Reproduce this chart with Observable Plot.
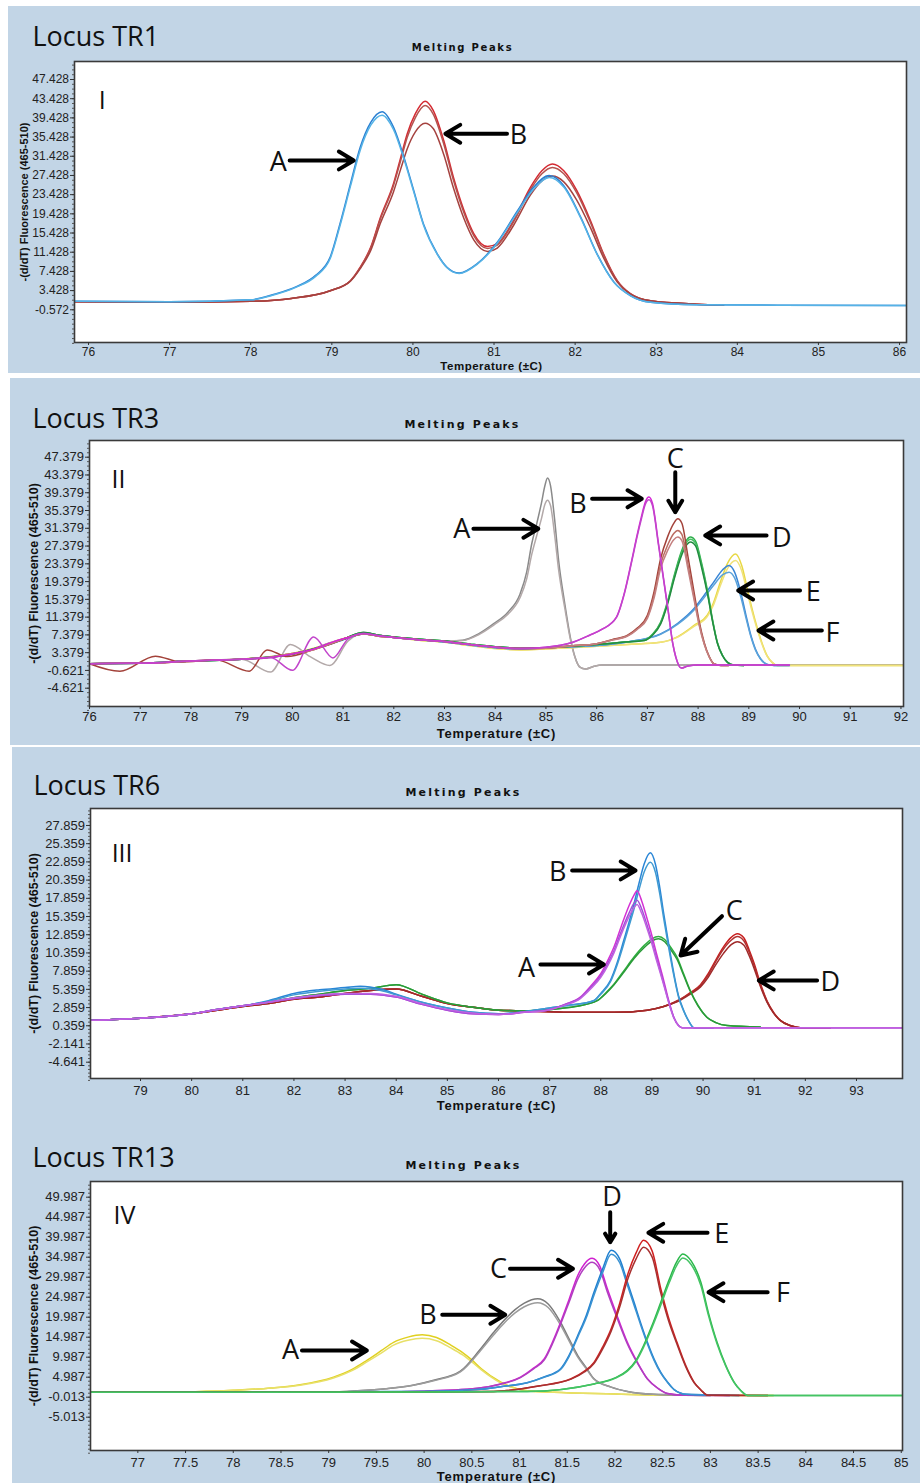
<!DOCTYPE html>
<html>
<head>
<meta charset="utf-8">
<script src="https://cdn.jsdelivr.net/npm/d3@7"></script>
<script src="https://cdn.jsdelivr.net/npm/@observablehq/plot@0.6"></script>
<style>
  html, body { margin: 0; padding: 0; background: #ffffff; }
  body { width: 920px; height: 1483px; position: relative; overflow: hidden; }
  .panel-bg { position: absolute; background: #c2d5e6; }
  .chart { position: absolute; left: 0; }
</style>
</head>
<body>
<script>
// ---------------- DATA ----------------
// Each row: [temperature °C, replicate 1, replicate 2, (replicate 3)]  -(d/dT) fluorescence

// Locus TR1
const tr1XTicks = [76, 77, 78, 79, 80, 81, 82, 83, 84, 85, 86];
const tr1YTicks = [-0.572, 3.428, 7.428, 11.428, 15.428, 19.428, 23.428, 27.428, 31.428, 35.428, 39.428, 43.428, 47.428];
const tr1A = [
  [75.83, 1.2, 1.2], [77.0, 1.1, 1.1], [78.0, 1.5, 1.5], [78.28, 2.6, 2.5], [78.57, 4.3, 4.2],
  [78.8, 6.6, 6.4], [78.98, 10.4, 10.1], [79.1, 17.3, 16.9], [79.23, 25.7, 25.2], [79.35, 33.3, 32.7],
  [79.48, 38.5, 37.9], [79.62, 40.7, 40.0], [79.76, 37.5, 37.0], [79.89, 31.2, 30.8], [80.01, 24.3, 24.0],
  [80.13, 17.3, 17.1], [80.3, 11.1, 11.0], [80.42, 8.3, 8.2], [80.57, 7.1, 7.0], [80.79, 9.0, 8.9],
  [81.04, 13.5, 13.3], [81.29, 20.1, 19.8], [81.49, 25.0, 24.6], [81.68, 27.4, 27.0], [81.86, 25.3, 25.0],
  [82.07, 18.7, 18.5], [82.27, 11.1, 11.0], [82.48, 5.2, 5.1], [82.68, 2.4, 2.4], [82.93, 1.0, 1.0],
  [83.5, 0.5, 0.5], [84.5, 0.4, 0.4], [86.09, 0.3, 0.3]
];
const tr1B = [
  [75.83, 1.1, 1.1, 1.1], [77.0, 1.0, 1.0, 1.0], [78.0, 1.2, 1.2, 1.2], [78.5, 1.8, 1.8, 1.8],
  [78.98, 3.4, 3.4, 3.4], [79.23, 5.5, 5.5, 5.4], [79.35, 8.3, 8.2, 8.0], [79.48, 12.5, 12.3, 11.8],
  [79.6, 18.7, 18.4, 17.5], [79.76, 25.7, 25.3, 24.0], [79.85, 31.2, 30.6, 28.8], [79.93, 36.1, 35.4, 33.0],
  [80.03, 40.3, 39.5, 36.5], [80.15, 42.9, 42.0, 38.3], [80.25, 41.0, 40.2, 37.2], [80.38, 34.7, 34.0, 31.8],
  [80.5, 27.0, 26.4, 24.8], [80.63, 20.1, 19.6, 18.4], [80.75, 15.3, 14.9, 14.0], [80.92, 12.6, 12.2, 11.6],
  [81.04, 13.2, 12.9, 12.3], [81.24, 18.0, 17.7, 17.0], [81.45, 25.0, 24.5, 23.4], [81.59, 28.4, 27.8, 26.3],
  [81.72, 29.8, 29.1, 27.3], [81.86, 28.4, 27.8, 26.1], [82.02, 24.3, 23.8, 22.3], [82.19, 18.0, 17.6, 16.5],
  [82.35, 11.1, 10.9, 10.3], [82.52, 5.5, 5.4, 5.2], [82.68, 2.8, 2.8, 2.7], [82.93, 1.3, 1.3, 1.3],
  [83.5, 0.6, 0.6, 0.6], [83.83, 0.4, 0.4, 0.4]
];
const tr1Labels = [
  {text: "I", x: 76.17, y: 42.95, size: 25},
  {text: "A", x: 78.34, y: 30.19, size: 27},
  {text: "B", x: 81.30, y: 35.86, size: 27}
];
const tr1Arrows = [
  {x1: 78.48, y1: 30.55, x2: 79.27, y2: 30.55},
  {x1: 81.16, y1: 36.11, x2: 80.40, y2: 36.11}
];

// Locus TR3
const tr3XTicks = [76, 77, 78, 79, 80, 81, 82, 83, 84, 85, 86, 87, 88, 89, 90, 91, 92];
const tr3YTicks = [-4.621, -0.621, 3.379, 7.379, 11.379, 15.379, 19.379, 23.379, 27.379, 31.379, 35.379, 39.379, 43.379, 47.379];
const tr3A = [
  [76.0, 0.9, 0.9], [77.0, 1.0, 1.0], [78.0, 1.5, 1.5], [79.0, 1.9, 1.9], [79.57, 2.3, -1.0],
  [79.96, 3.0, 5.2], [80.35, 4.0, 2.5], [80.74, 5.6, 0.5], [81.1, 6.8, 6.0], [81.4, 7.8, 7.8],
  [81.7, 7.3, 7.3], [82.0, 6.9, 6.9], [82.5, 6.4, 6.4], [83.0, 6.0, 6.0], [83.36, 6.2, 6.1],
  [83.67, 7.6, 7.4], [83.97, 9.9, 9.6], [84.25, 12.5, 12.0], [84.49, 16.6, 15.8], [84.62, 21.5, 20.0],
  [84.72, 27.9, 25.5], [84.82, 32.5, 29.8], [84.91, 37.0, 33.5], [84.98, 41.0, 36.8], [85.03, 42.7, 37.7],
  [85.09, 41.0, 36.5], [85.17, 33.5, 30.0], [85.25, 24.1, 22.0], [85.37, 14.5, 13.5], [85.48, 6.9, 6.5],
  [85.57, 2.5, 2.4], [85.67, 0.1, 0.1], [85.78, -0.3, -0.3], [85.95, 0.3, 0.3], [86.1, 0.6, 0.6],
  [92.05, 0.6, 0.6]
];
const tr3B = [
  [76.0, 0.9, 0.9], [77.0, 1.0, 1.0], [78.0, 1.5, 1.5], [79.0, 1.9, 1.9], [79.57, 2.3, 2.3],
  [80.0, 3.1, -0.6], [80.42, 4.2, 6.9], [80.8, 5.8, 2.2], [81.1, 6.8, 6.5], [81.4, 7.7, 7.7],
  [81.7, 7.2, 7.2], [82.0, 6.8, 6.8], [82.5, 6.3, 6.3], [83.0, 5.9, 5.9], [83.5, 5.2, 5.2],
  [84.0, 4.6, 4.6], [84.5, 4.3, 4.3], [85.0, 4.6, 4.6], [85.5, 5.6, 5.6], [85.86, 7.3, 7.3],
  [86.1, 8.6, 8.6], [86.39, 11.4, 11.3], [86.55, 17.0, 16.8], [86.69, 24.1, 23.8], [86.8, 30.0, 29.6],
  [86.88, 33.9, 33.4], [86.96, 37.3, 36.8], [87.03, 38.4, 37.8], [87.1, 37.0, 36.5], [87.22, 27.9, 27.5],
  [87.32, 20.0, 19.7], [87.41, 12.9, 12.7], [87.5, 5.5, 5.4], [87.56, 2.4, 2.4], [87.67, -0.1, -0.1],
  [87.8, 0.4, 0.4], [88.0, 0.6, 0.6], [89.8, 0.6, 0.6]
];
const tr3C = [
  [76.0, 0.9, 0.9, 0.9], [76.6, -0.8, 1.0, 1.0], [77.3, 2.6, 1.0, 1.0], [77.8, 1.3, 1.4, 1.4],
  [78.5, 1.7, 1.7, 1.7], [79.15, -0.8, 2.0, 2.0], [79.5, 4.0, 2.3, 2.3], [79.9, 2.5, 3.0, 3.0],
  [80.4, 4.0, 4.0, 4.0], [80.8, 5.5, 5.6, 5.6], [81.1, 6.8, 6.8, 6.8], [81.4, 7.6, 7.6, 7.6],
  [81.7, 7.1, 7.1, 7.1], [82.0, 6.8, 6.8, 6.8], [82.5, 6.3, 6.3, 6.3], [83.0, 5.9, 5.9, 5.9],
  [83.5, 5.2, 5.2, 5.2], [84.0, 4.6, 4.6, 4.6], [84.5, 4.3, 4.3, 4.3], [85.0, 4.4, 4.4, 4.4],
  [85.5, 4.9, 4.9, 4.9], [86.0, 5.4, 5.4, 5.4], [86.3, 6.3, 6.2, 6.2], [86.61, 7.3, 7.2, 7.1],
  [86.8, 8.9, 8.7, 8.6], [87.0, 11.8, 11.4, 11.1], [87.13, 17.0, 16.2, 15.6], [87.26, 24.5, 23.2, 22.3],
  [87.4, 29.5, 27.6, 26.4], [87.52, 32.5, 30.2, 28.8], [87.6, 33.5, 30.9, 29.4], [87.68, 32.5, 30.0, 28.6],
  [87.8, 25.0, 23.2, 22.2], [87.92, 17.0, 15.9, 15.3], [88.02, 10.5, 9.9, 9.6], [88.12, 5.7, 5.4, 5.3],
  [88.22, 2.5, 2.4, 2.4], [88.31, 0.9, 0.9, 0.9], [88.45, 0.5, 0.5, 0.5], [88.6, 0.5, 0.5, 0.5]
];
const tr3D = [
  [76.0, 0.9, 0.9, 0.9], [77.0, 1.0, 1.0, 1.0], [78.0, 1.5, 1.5, 1.5], [79.0, 1.9, 1.9, 1.9],
  [80.0, 3.1, 3.1, 3.1], [80.5, 4.5, 4.5, 4.5], [81.0, 6.4, 6.4, 6.4], [81.4, 7.9, 7.9, 7.9],
  [81.7, 7.3, 7.3, 7.3], [82.0, 6.9, 6.9, 6.9], [82.5, 6.4, 6.4, 6.4], [83.0, 6.0, 6.0, 6.0],
  [83.5, 5.3, 5.3, 5.3], [84.0, 4.7, 4.7, 4.7], [84.5, 4.4, 4.4, 4.4], [85.0, 4.5, 4.5, 4.5],
  [85.5, 4.8, 4.8, 4.8], [86.0, 5.2, 5.2, 5.2], [86.5, 5.7, 5.7, 5.7], [86.94, 6.2, 6.1, 6.1],
  [87.1, 7.5, 7.4, 7.3], [87.26, 10.2, 10.0, 9.8], [87.4, 15.0, 14.7, 14.4], [87.53, 20.8, 20.4, 20.0],
  [87.65, 25.5, 25.0, 24.5], [87.76, 28.5, 28.0, 27.4], [87.85, 29.4, 28.9, 28.3], [87.95, 28.5, 28.0, 27.4],
  [88.07, 23.5, 23.0, 22.5], [88.19, 17.0, 16.6, 16.3], [88.29, 10.5, 10.3, 10.1], [88.38, 5.7, 5.6, 5.5],
  [88.48, 2.8, 2.8, 2.7], [88.58, 1.2, 1.2, 1.2], [88.7, 0.6, 0.6, 0.6], [88.9, 0.5, 0.5, 0.5]
];
const tr3E = [
  [76.0, 0.9, 0.9], [77.0, 1.0, 1.0], [78.0, 1.5, 1.5], [79.0, 1.9, 1.9], [80.0, 3.1, 3.1],
  [80.5, 4.4, 4.4], [81.0, 6.3, 6.3], [81.4, 7.6, 7.6], [81.7, 7.2, 7.2], [82.0, 6.8, 6.8],
  [82.5, 6.3, 6.3], [83.0, 5.8, 5.8], [83.5, 5.1, 5.1], [84.0, 4.5, 4.5], [84.5, 4.2, 4.2],
  [85.0, 4.5, 4.5], [86.0, 5.0, 5.0], [86.6, 5.8, 5.8], [87.26, 7.6, 7.5], [87.6, 10.0, 9.8],
  [87.92, 13.3, 13.0], [88.1, 16.0, 15.5], [88.31, 19.3, 18.6], [88.48, 22.0, 20.9], [88.61, 23.0, 21.5],
  [88.72, 21.5, 20.2], [88.84, 17.0, 16.0], [88.94, 12.0, 11.4], [89.04, 7.3, 7.0], [89.13, 4.2, 4.0],
  [89.23, 2.0, 2.0], [89.35, 0.8, 0.8], [89.5, 0.5, 0.5], [89.8, 0.5, 0.5]
];
const tr3F = [
  [76.0, 0.9, 0.9], [77.0, 1.0, 1.0], [78.0, 1.5, 1.5], [79.0, 1.9, 1.9], [80.0, 3.2, 3.2],
  [80.5, 4.6, 4.6], [81.0, 6.5, 6.5], [81.4, 7.6, 7.6], [81.7, 7.2, 7.2], [82.0, 6.8, 6.8],
  [82.5, 6.2, 6.2], [83.0, 5.7, 5.7], [83.5, 5.0, 5.0], [84.0, 4.3, 4.3], [84.5, 4.0, 4.0],
  [85.0, 4.2, 4.2], [86.0, 4.8, 4.8], [86.6, 5.2, 5.2], [87.26, 5.7, 5.7], [87.6, 7.0, 6.9],
  [87.92, 9.5, 9.3], [88.18, 11.8, 11.5], [88.3, 14.5, 14.0], [88.44, 19.3, 18.5], [88.58, 23.5, 22.3],
  [88.74, 25.6, 24.1], [88.86, 23.0, 21.8], [88.97, 17.8, 16.9], [89.07, 13.0, 12.4], [89.17, 8.8, 8.4],
  [89.27, 5.2, 5.0], [89.36, 2.7, 2.6], [89.46, 1.2, 1.2], [89.56, 0.5, 0.5], [92.05, 0.5, 0.5]
];
const tr3Labels = [
  {text: "II", x: 76.57, y: 42.36, size: 25},
  {text: "A", x: 83.34, y: 31.04, size: 27},
  {text: "B", x: 85.63, y: 36.74, size: 27},
  {text: "C", x: 87.55, y: 46.86, size: 27},
  {text: "D", x: 89.65, y: 29.08, size: 27},
  {text: "E", x: 90.27, y: 17.0, size: 27},
  {text: "F", x: 90.65, y: 7.8, size: 27}
];
const tr3Arrows = [
  {x1: 83.57, y1: 31.26, x2: 84.85, y2: 31.26},
  {x1: 85.91, y1: 38.02, x2: 86.89, y2: 38.02},
  {x1: 87.55, y1: 44.0, x2: 87.55, y2: 35.0},
  {x1: 89.35, y1: 29.76, x2: 88.14, y2: 29.76},
  {x1: 90.01, y1: 17.37, x2: 88.79, y2: 17.37},
  {x1: 90.44, y1: 8.37, x2: 89.19, y2: 8.37}
];

// Locus TR6
const tr6XTicks = [79, 80, 81, 82, 83, 84, 85, 86, 87, 88, 89, 90, 91, 92, 93];
const tr6YTicks = [-4.641, -2.141, 0.359, 2.859, 5.359, 7.859, 10.359, 12.859, 15.359, 17.859, 20.359, 22.859, 25.359, 27.859];
const tr6A = [
  [78.02, 1.1, 1.1, 1.1], [79.0, 1.4, 1.4, 1.4], [80.0, 2.0, 2.0, 2.0], [80.5, 2.6, 2.6, 2.6],
  [81.0, 3.1, 3.1, 3.1], [81.5, 3.6, 3.6, 3.6], [82.0, 4.1, 4.1, 4.2], [82.5, 4.5, 4.5, 4.6],
  [83.0, 4.7, 4.7, 4.8], [83.5, 4.7, 4.7, 4.8], [84.0, 4.3, 4.3, 4.4], [84.5, 3.3, 3.3, 3.4],
  [85.0, 2.5, 2.5, 2.6], [85.5, 2.0, 2.0, 2.1], [86.0, 1.9, 1.9, 1.9], [86.5, 2.2, 2.2, 2.2],
  [86.95, 2.5, 2.5, 2.5], [87.3, 3.3, 3.3, 3.2], [87.6, 4.3, 4.2, 4.1], [87.8, 5.8, 5.6, 5.4],
  [88.0, 7.5, 7.2, 7.0], [88.15, 9.5, 9.1, 8.8], [88.26, 11.2, 10.7, 10.4], [88.4, 14.0, 13.3, 12.9],
  [88.55, 16.8, 15.8, 15.3], [88.65, 18.3, 17.2, 16.6], [88.71, 18.9, 17.6, 17.0], [88.8, 17.5, 16.4, 15.8],
  [88.9, 15.2, 14.3, 13.8], [88.97, 13.5, 12.7, 12.3], [89.1, 10.0, 9.4, 9.1], [89.23, 6.6, 6.2, 6.0],
  [89.33, 3.8, 3.6, 3.5], [89.43, 1.5, 1.5, 1.4], [89.52, 0.4, 0.4, 0.4], [89.59, 0.1, 0.1, 0.1],
  [93.9, 0.1, 0.1, 0.1]
];
const tr6B = [
  [78.02, 1.1, 1.1], [79.0, 1.4, 1.4], [80.0, 2.0, 2.0], [80.5, 2.6, 2.6], [81.0, 3.1, 3.1],
  [81.5, 3.8, 3.7], [82.0, 4.8, 4.6], [82.5, 5.3, 5.1], [83.0, 5.6, 5.4], [83.3, 5.8, 5.5],
  [83.7, 5.4, 5.2], [84.0, 4.7, 4.6], [84.5, 3.6, 3.6], [85.0, 2.8, 2.8], [85.5, 2.2, 2.2],
  [86.0, 2.0, 2.0], [86.5, 2.3, 2.3], [87.0, 2.8, 2.8], [87.4, 3.2, 3.2], [87.86, 3.8, 3.8],
  [88.0, 4.8, 4.7], [88.19, 6.6, 6.4], [88.32, 9.0, 8.7], [88.45, 12.1, 11.6], [88.55, 14.5, 14.0],
  [88.65, 17.1, 16.4], [88.75, 20.0, 19.1], [88.85, 22.6, 21.5], [88.97, 24.1, 22.8], [89.07, 22.5, 21.4],
  [89.15, 19.5, 18.6], [89.23, 15.8, 15.1], [89.33, 11.5, 11.0], [89.43, 7.5, 7.2], [89.52, 4.5, 4.3],
  [89.62, 2.5, 2.4], [89.72, 1.0, 1.0], [89.82, 0.1, 0.1], [90.2, 0.1, 0.1]
];
const tr6C = [
  [78.02, 1.1, 1.1], [79.0, 1.4, 1.4], [80.0, 2.0, 2.0], [80.5, 2.6, 2.6], [81.0, 3.1, 3.1],
  [81.5, 3.6, 3.6], [82.0, 4.2, 4.2], [82.5, 4.7, 4.7], [83.0, 5.2, 5.2], [83.5, 5.5, 5.5],
  [84.0, 6.0, 6.0], [84.5, 4.7, 4.7], [85.0, 3.5, 3.5], [85.5, 2.9, 2.9], [86.0, 2.5, 2.5],
  [86.5, 2.4, 2.4], [87.0, 2.6, 2.6], [87.5, 3.0, 3.0], [87.93, 3.8, 3.8], [88.1, 4.9, 4.8],
  [88.26, 6.1, 6.0], [88.45, 7.9, 7.7], [88.65, 9.8, 9.6], [88.85, 11.4, 11.1], [89.0, 12.3, 12.0],
  [89.13, 12.6, 12.3], [89.25, 12.2, 11.9], [89.37, 11.1, 10.8], [89.49, 9.8, 9.5], [89.62, 7.5, 7.3],
  [89.75, 5.2, 5.1], [89.9, 3.2, 3.1], [90.08, 1.5, 1.5], [90.25, 0.8, 0.8], [90.47, 0.4, 0.4],
  [91.12, 0.2, 0.2]
];
const tr6D = [
  [78.02, 1.1, 1.1, 1.1], [79.0, 1.4, 1.4, 1.4], [80.0, 2.0, 2.0, 2.0], [80.5, 2.5, 2.5, 2.5],
  [81.0, 3.0, 3.0, 3.0], [81.5, 3.4, 3.4, 3.4], [82.0, 4.0, 4.0, 4.0], [82.5, 4.3, 4.3, 4.3],
  [83.0, 4.8, 4.8, 4.8], [83.5, 5.2, 5.2, 5.2], [84.0, 5.4, 5.4, 5.4], [84.5, 4.4, 4.4, 4.4],
  [85.0, 3.4, 3.4, 3.4], [85.5, 2.9, 2.9, 2.9], [86.0, 2.5, 2.5, 2.5], [86.5, 2.4, 2.4, 2.4],
  [87.0, 2.3, 2.3, 2.3], [87.5, 2.2, 2.2, 2.2], [88.26, 2.2, 2.2, 2.2], [88.91, 2.5, 2.5, 2.5],
  [89.23, 3.0, 3.0, 3.0], [89.56, 4.0, 4.0, 3.9], [89.75, 4.9, 4.8, 4.7], [89.95, 6.0, 5.9, 5.7],
  [90.1, 7.5, 7.3, 7.0], [90.21, 8.9, 8.7, 8.3], [90.4, 11.2, 10.9, 10.3], [90.55, 12.5, 12.1, 11.5],
  [90.67, 13.0, 12.6, 11.9], [90.8, 12.4, 12.0, 11.4], [90.9, 10.8, 10.5, 10.0], [91.0, 8.9, 8.6, 8.2],
  [91.12, 6.2, 6.0, 5.8], [91.25, 3.8, 3.7, 3.6], [91.38, 2.2, 2.1, 2.1], [91.51, 1.1, 1.1, 1.1],
  [91.7, 0.4, 0.4, 0.4], [91.9, 0.1, 0.1, 0.1], [92.49, 0.1, 0.1, 0.1]
];
const tr6Labels = [
  {text: "III", x: 78.64, y: 24.0, size: 25},
  {text: "A", x: 86.55, y: 8.23, size: 27},
  {text: "B", x: 87.16, y: 21.45, size: 27},
  {text: "C", x: 90.61, y: 16.05, size: 27},
  {text: "D", x: 92.49, y: 6.34, size: 27}
];
const tr6Arrows = [
  {x1: 86.82, y1: 8.77, x2: 88.06, y2: 8.77},
  {x1: 87.44, y1: 21.68, x2: 88.68, y2: 21.68},
  {x1: 90.37, y1: 15.4, x2: 89.56, y2: 10.01},
  {x1: 92.23, y1: 6.58, x2: 91.09, y2: 6.58}
];

// Locus TR13
const tr13XTicks = [77, 77.5, 78, 78.5, 79, 79.5, 80, 80.5, 81, 81.5, 82, 82.5, 83, 83.5, 84, 84.5, 85];
const tr13YTicks = [-5.013, -0.013, 4.987, 9.987, 14.987, 19.987, 24.987, 29.987, 34.987, 39.987, 44.987, 49.987];
const tr13A = [
  [76.5, 1.2, 1.2], [77.5, 1.3, 1.3], [78.0, 1.7, 1.7], [78.4, 2.3, 2.3], [78.7, 3.1, 3.0],
  [79.05, 5.0, 4.8], [79.25, 7.0, 6.7], [79.4, 9.2, 8.8], [79.55, 11.6, 11.0], [79.68, 13.7, 13.0],
  [79.83, 15.0, 14.2], [79.98, 15.6, 14.7], [80.13, 14.9, 14.1], [80.28, 13.0, 12.3], [80.4, 11.2, 10.6],
  [80.5, 9.3, 8.8], [80.6, 7.1, 6.8], [80.8, 3.8, 3.6], [81.08, 1.6, 1.6], [81.36, 1.2, 1.2],
  [82.0, 0.8, 0.8], [82.5, 0.5, 0.5], [83.66, 0.4, 0.4]
];
const tr13B = [
  [76.5, 1.2, 1.2], [78.0, 1.2, 1.2], [79.0, 1.3, 1.3], [79.3, 1.6, 1.6], [79.6, 2.1, 2.1],
  [79.87, 2.9, 2.9], [80.1, 4.2, 4.1], [80.38, 6.5, 6.3], [80.58, 11.7, 11.3], [80.73, 16.2, 15.6],
  [80.85, 19.5, 18.8], [80.95, 21.8, 21.0], [81.05, 23.5, 22.6], [81.19, 24.6, 23.6], [81.3, 23.3, 22.4],
  [81.43, 18.7, 18.0], [81.52, 14.5, 14.0], [81.61, 10.4, 10.0], [81.7, 7.3, 7.1], [81.78, 4.6, 4.5],
  [81.96, 2.5, 2.5], [82.13, 1.4, 1.4], [82.4, 0.7, 0.7], [83.0, 0.4, 0.4]
];
const tr13C = [
  [76.5, 1.2, 1.2], [79.0, 1.2, 1.2], [80.0, 1.5, 1.5], [80.56, 2.2, 2.2], [80.8, 3.3, 3.2],
  [81.01, 5.0, 4.9], [81.15, 7.3, 7.1], [81.26, 9.6, 9.3], [81.35, 14.0, 13.6], [81.43, 18.7, 18.2],
  [81.52, 24.5, 23.8], [81.61, 30.4, 29.5], [81.68, 33.3, 32.3], [81.76, 34.7, 33.7], [81.84, 32.8, 31.9],
  [81.92, 27.1, 26.3], [82.02, 20.5, 19.9], [82.13, 13.7, 13.3], [82.24, 8.5, 8.3], [82.34, 4.6, 4.5],
  [82.45, 2.2, 2.2], [82.55, 0.9, 0.9], [82.7, 0.5, 0.5], [83.2, 0.4, 0.4]
];
const tr13D = [
  [76.5, 1.2, 1.2], [80.0, 1.4, 1.4], [80.56, 1.9, 1.9], [80.8, 2.6, 2.6], [81.08, 3.6, 3.6],
  [81.25, 5.0, 4.9], [81.43, 7.1, 6.9], [81.52, 10.5, 10.2], [81.61, 15.4, 15.0], [81.7, 20.5, 19.9],
  [81.78, 26.2, 25.5], [81.87, 32.0, 31.1], [81.96, 36.7, 35.7], [82.05, 34.5, 33.6], [82.12, 29.5, 28.7],
  [82.2, 23.7, 23.0], [82.27, 18.5, 18.0], [82.34, 13.7, 13.3], [82.41, 9.5, 9.2], [82.48, 6.2, 6.0],
  [82.55, 3.8, 3.7], [82.62, 1.9, 1.9], [82.75, 0.7, 0.7], [83.3, 0.4, 0.4]
];
const tr13E = [
  [76.5, 1.2, 1.2], [80.0, 1.3, 1.3], [80.73, 1.4, 1.4], [81.2, 2.8, 2.8], [81.54, 4.6, 4.5],
  [81.68, 6.5, 6.3], [81.78, 8.7, 8.4], [81.87, 12.5, 12.0], [81.96, 17.1, 16.5], [82.05, 23.5, 22.6],
  [82.13, 30.4, 29.2], [82.22, 36.0, 34.5], [82.3, 39.2, 37.5], [82.39, 36.5, 35.0], [82.48, 27.1, 26.0],
  [82.56, 20.0, 19.2], [82.65, 13.7, 13.2], [82.74, 8.0, 7.7], [82.83, 3.7, 3.6], [82.9, 1.8, 1.8],
  [82.97, 0.5, 0.5], [83.6, 0.4, 0.4]
];
const tr13F = [
  [76.5, 1.2, 1.2], [80.0, 1.3, 1.3], [81.08, 1.4, 1.4], [81.78, 3.3, 3.3], [82.0, 4.8, 4.7],
  [82.13, 6.7, 6.5], [82.22, 9.2, 8.9], [82.3, 12.9, 12.5], [82.39, 18.0, 17.5], [82.48, 23.7, 23.0],
  [82.57, 29.5, 28.7], [82.64, 33.5, 32.6], [82.71, 35.8, 34.8], [82.8, 34.0, 33.1], [82.9, 28.7, 27.9],
  [82.98, 21.0, 20.4], [83.07, 13.7, 13.3], [83.16, 8.0, 7.8], [83.25, 3.7, 3.6], [83.32, 1.6, 1.6],
  [83.39, 0.4, 0.4], [85.01, 0.4, 0.4]
];
const tr13Labels = [
  {text: "IV", x: 76.86, y: 45.4, size: 25},
  {text: "A", x: 78.6, y: 11.66, size: 27},
  {text: "B", x: 80.04, y: 20.4, size: 27},
  {text: "C", x: 80.78, y: 31.9, size: 27},
  {text: "D", x: 81.97, y: 50.0, size: 27},
  {text: "E", x: 83.12, y: 40.66, size: 27},
  {text: "F", x: 83.76, y: 25.9, size: 27}
];
const tr13Arrows = [
  {x1: 78.72, y1: 11.66, x2: 79.40, y2: 11.66},
  {x1: 80.19, y1: 20.6, x2: 80.85, y2: 20.6},
  {x1: 80.90, y1: 32.1, x2: 81.56, y2: 32.1},
  {x1: 81.95, y1: 46.24, x2: 81.95, y2: 38.74},
  {x1: 82.97, y1: 41.09, x2: 82.35, y2: 41.09},
  {x1: 83.60, y1: 26.24, x2: 82.98, y2: 26.24}
];

const yLabelText = "-(d/dT) Fluorescence (465-510)";
const xLabelText = "Temperature (±C)";
const plotTitleText = "Melting Peaks";

// ---------------- LAYOUT / STYLE ----------------
const LETTER_FONT = "'Open Sans', 'Noto Sans', sans-serif";
const TICK_FONT = "'Liberation Sans', Arial, sans-serif";

const panels = [
  {
    title: "Locus TR1", bg: {left: 8, top: 6, width: 912, height: 367},
    top: 6, height: 367, ml: 74, mr: 14, mt: 55, mb: 31,
    xDomain: [75.827, 86.086], yDomain: [-7.39, 51.18],
    xTicks: tr1XTicks, yTicks: tr1YTicks, minorStep: 1,
    tickFont: 12, xPad: 2,
    titleDx: -42, titleDy: -23.7,
    mpDx: -28, mpDy: -14, mpSize: 10, mpSpacing: 1.7,
    tDx: 1, tDy: 24, tSize: 11.5, tSpacing: 0.5,
    yDx: -50, ySize: 11,
    groups: [
      {rows: tr1B, colors: ["#d42a32", "#b4534f", "#a5423f"]},
      {rows: tr1A, colors: ["#2a7fd2", "#55b3e6"]}
    ],
    labels: tr1Labels, arrows: tr1Arrows
  },
  {
    title: "Locus TR3", bg: {left: 10, top: 378, width: 910, height: 367},
    top: 378, height: 367, ml: 89, mr: 17, mt: 62, mb: 39,
    xDomain: [76, 92.05], yDomain: [-8.74, 51.14],
    xTicks: tr3XTicks, yTicks: tr3YTicks, minorStep: 1,
    tickFont: 13, xPad: 2,
    titleDx: -57, titleDy: -20.8,
    mpDx: -34, mpDy: -16, mpSize: 11, mpSpacing: 2.2,
    tDx: 0, tDy: 27, tSize: 13, tSpacing: 0.8,
    yDx: -56, ySize: 12.5,
    groups: [
      {rows: tr3A, colors: ["#8a8a8a", "#b3a9a9"]},
      {rows: tr3F, colors: ["#e8d844", "#f0e27a"]},
      {rows: tr3E, colors: ["#3a86d6", "#5aa2da"]},
      {rows: tr3D, colors: ["#2fae4c", "#46c262", "#238c40"]},
      {rows: tr3C, colors: ["#a3423a", "#bb6c62", "#c48080"]},
      {rows: tr3B, colors: ["#d624d6", "#c245cb"]}
    ],
    labels: tr3Labels, arrows: tr3Arrows
  },
  {
    title: "Locus TR6", bg: {left: 12, top: 747, width: 908, height: 368},
    top: 747, height: 368, ml: 90, mr: 18, mt: 61, mb: 37,
    xDomain: [78.022, 93.9], yDomain: [-6.88, 30.19],
    xTicks: tr6XTicks, yTicks: tr6YTicks, minorStep: 0.5,
    tickFont: 13, xPad: 4,
    titleDx: -57, titleDy: -22,
    mpDx: -33, mpDy: -16, mpSize: 11, mpSpacing: 2.2,
    tDx: 0, tDy: 27, tSize: 13, tSpacing: 0.8,
    yDx: -57, ySize: 12.5,
    groups: [
      {rows: tr6D, colors: ["#c81e1e", "#b03232", "#a02a2a"]},
      {rows: tr6C, colors: ["#30b040", "#2a9a38"]},
      {rows: tr6B, colors: ["#2a86d6", "#3f9ad2"]},
      {rows: tr6A, colors: ["#d430d4", "#a050d8", "#c060e0"]}
    ],
    labels: tr6Labels, arrows: tr6Arrows
  },
  {
    title: "Locus TR13", bg: {left: 12, top: 1115, width: 908, height: 368},
    top: 1115, height: 368, ml: 90, mr: 18, mt: 66, mb: 33,
    xDomain: [76.504, 85.013], yDomain: [-13.34, 53.91],
    xTicks: tr13XTicks, yTicks: tr13YTicks, minorStep: 1,
    tickFont: 13, xPad: 4,
    titleDx: -58, titleDy: -23.4,
    mpDx: -33, mpDy: -16, mpSize: 11, mpSpacing: 2.2,
    tDx: 0, tDy: 26, tSize: 13, tSpacing: 0.8,
    yDx: -57, ySize: 12.5,
    groups: [
      {rows: tr13A, colors: ["#e0d020", "#e8e068"]},
      {rows: tr13B, colors: ["#7a7a7a", "#9c9c9c"]},
      {rows: tr13C, colors: ["#d020d0", "#b040c0"]},
      {rows: tr13D, colors: ["#1e7fd0", "#3a92d2"]},
      {rows: tr13E, colors: ["#d02020", "#a83030"]},
      {rows: tr13F, colors: ["#2ab84a", "#44c464"]}
    ],
    labels: tr13Labels, arrows: tr13Arrows
  }
];

function minorTicks(base, step, domain) {
  const out = [];
  const start = base - Math.ceil((base - domain[0]) / step) * step;
  for (let v = start; v <= domain[1] + 1e-9; v += step) out.push(+v.toFixed(4));
  return out;
}

for (const p of panels) {
  const bg = document.createElement("div");
  bg.className = "panel-bg";
  Object.assign(bg.style, {left: p.bg.left + "px", top: p.bg.top + "px", width: p.bg.width + "px", height: p.bg.height + "px"});
  document.body.appendChild(bg);

  const lineMarks = [];
  for (const g of p.groups) {
    g.colors.forEach((c, i) => {
      lineMarks.push(Plot.line(g.rows, {
        x: d => d[0], y: d => d[i + 1],
        stroke: c, strokeWidth: 1.5, curve: "monotone-x", clip: true
      }));
    });
  }

  const chart = Plot.plot({
    width: 920, height: p.height,
    marginLeft: p.ml, marginRight: p.mr, marginTop: p.mt, marginBottom: p.mb,
    style: {background: "transparent", overflow: "visible", fontFamily: TICK_FONT, fontSize: p.tickFont + "px", color: "#222"},
    x: {domain: p.xDomain},
    y: {domain: p.yDomain},
    marks: [
      Plot.frame({fill: "white", stroke: "none"}),
      ...lineMarks,
      Plot.frame({stroke: "#3a3a3a", strokeWidth: 1.6}),
      Plot.axisY({ticks: minorTicks(p.yTicks[0], p.minorStep, p.yDomain), tickSize: 2, tickFormat: () => "", label: null, stroke: "#555"}),
      Plot.axisY({ticks: p.yTicks, tickSize: 4, tickPadding: 1.5, tickFormat: d => d.toFixed(3), label: null, stroke: "#333", fill: "#222"}),
      Plot.axisX({ticks: p.xTicks, tickSize: 3, tickPadding: p.xPad, tickFormat: d => String(d), label: null, stroke: "#333", fill: "#222"}),
      Plot.arrow(p.arrows, {
        x1: "x1", y1: "y1", x2: "x2", y2: "y2",
        stroke: "#000", strokeWidth: 4, headLength: 6.5, headAngle: 62
      }),
      Plot.text(p.labels, {
        x: "x", y: "y", text: "text", fontSize: d => d.size,
        fontFamily: LETTER_FONT, fill: "#111", lineAnchor: "middle"
      }),
      Plot.text([p.title], {
        frameAnchor: "top-left", textAnchor: "start", lineAnchor: "middle", dx: p.titleDx, dy: p.titleDy,
        text: d => d, fontSize: 27, fontFamily: LETTER_FONT, fill: "#111"
      }),
      Plot.text([plotTitleText], {
        frameAnchor: "top", textAnchor: "middle", lineAnchor: "middle", dx: p.mpDx, dy: p.mpDy, text: d => d,
        fontSize: p.mpSize, fontWeight: "bold", fontFamily: "'DejaVu Sans', sans-serif",
        fill: "#111"
      }),
      Plot.text([xLabelText], {
        frameAnchor: "bottom", textAnchor: "middle", lineAnchor: "middle", dx: p.tDx, dy: p.tDy, text: d => d,
        fontSize: p.tSize, fontWeight: "bold", fontFamily: TICK_FONT,
        fill: "#111"
      }),
      Plot.text([yLabelText], {
        frameAnchor: "left", textAnchor: "middle", lineAnchor: "middle", dx: p.yDx, rotate: -90, text: d => d,
        fontSize: p.ySize, fontWeight: "bold", fontFamily: TICK_FONT, fill: "#111"
      })
    ]
  });
  // letter spacing for the two bold captions
  chart.querySelectorAll("text").forEach(t => {
    if (t.textContent === plotTitleText) t.style.letterSpacing = p.mpSpacing + "px";
    if (t.textContent === xLabelText) t.style.letterSpacing = p.tSpacing + "px";
  });
  chart.classList.add("chart");
  chart.style.position = "absolute";
  chart.style.left = "0px";
  chart.style.top = p.top + "px";
  document.body.appendChild(chart);
}
</script>
</body>
</html>
